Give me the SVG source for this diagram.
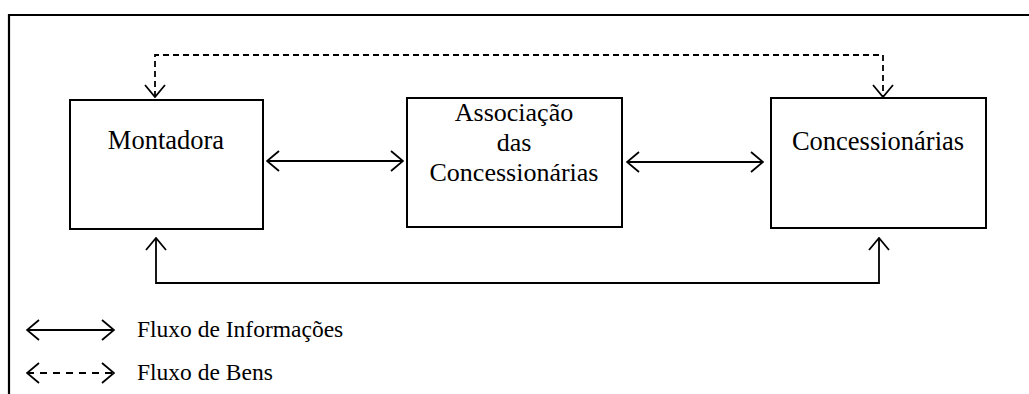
<svg xmlns="http://www.w3.org/2000/svg" width="1029" height="394" viewBox="0 0 1029 394">
<defs>
<style>
.box{fill:#fff;stroke:#000;stroke-width:2}
.ln{fill:none;stroke:#000;stroke-width:1.8}
.dash{fill:none;stroke:#000;stroke-width:1.8;stroke-dasharray:6 4}
.dash2{fill:none;stroke:#000;stroke-width:1.8;stroke-dasharray:7 6}
.t{font-family:"Liberation Serif","Times New Roman",serif;font-size:26.5px;fill:#000;text-anchor:middle}
.t2{font-size:26px}
.lg{font-family:"Liberation Serif","Times New Roman",serif;font-size:23.5px;fill:#000}
</style>
<marker id="ah" viewBox="0 0 14 22" refX="13" refY="11" markerWidth="14" markerHeight="22" markerUnits="userSpaceOnUse" orient="auto-start-reverse">
<path d="M1,1 L13,11 L1,21" fill="none" stroke="#000" stroke-width="1.8"/>
</marker>
</defs>
<rect width="1029" height="394" fill="#fff"/>
<path d="M9,394 V15 H1029" fill="none" stroke="#000" stroke-width="2.2"/>
<g id="montadora">
<rect class="box" x="70" y="100" width="193" height="129"/>
<text class="t" x="166" y="149">Montadora</text>
</g>
<g id="associacao">
<rect class="box" x="407" y="98" width="215" height="129"/>
<text class="t t2" x="514" y="121">Associação</text>
<text class="t t2" x="514" y="151">das</text>
<text class="t t2" x="514" y="181">Concessionárias</text>
</g>
<g id="concessionarias">
<rect class="box" x="771" y="98" width="215" height="130"/>
<text class="t" x="878" y="150">Concessionárias</text>
</g>
<g id="connectors">
<path class="ln" d="M267,161 H403" marker-start="url(#ah)" marker-end="url(#ah)"/>
<path class="ln" d="M627,162 H763" marker-start="url(#ah)" marker-end="url(#ah)"/>
<path class="ln" d="M156,238 V283 H879 V238" marker-start="url(#ah)" marker-end="url(#ah)"/>
<path class="dash" d="M155,97 V55 H883 V97" marker-start="url(#ah)" marker-end="url(#ah)"/>
</g>
<g id="legend">
<path class="ln" d="M27,330 H114" marker-start="url(#ah)" marker-end="url(#ah)"/>
<text class="lg" x="137" y="337">Fluxo de Informações</text>
<path class="dash2" d="M27,373 H114" marker-start="url(#ah)" marker-end="url(#ah)"/>
<text class="lg" x="137" y="380">Fluxo de Bens</text>
</g>
</svg>
